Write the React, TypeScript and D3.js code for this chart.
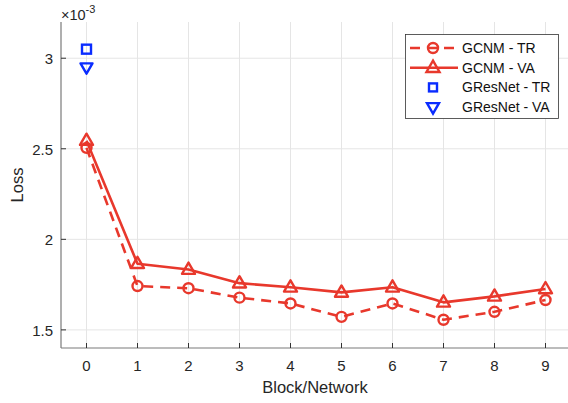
//@ts-nocheck
import React, { useEffect, useRef } from "react";
import * as d3 from "d3";

// values in units of 1e-3
const blocks = [0, 1, 2, 3, 4, 5, 6, 7, 8, 9];
const gcnmTR = [2.505, 1.742, 1.73, 1.678, 1.646, 1.572, 1.646, 1.556, 1.6, 1.665];
const gcnmVA = [2.545, 1.865, 1.833, 1.758, 1.735, 1.707, 1.735, 1.652, 1.685, 1.726];
const gresnetTR = [3.05];
const gresnetVA = [2.95];
const yTicks = [1.5, 2, 2.5, 3];
const legendLabels = ["GCNM - TR", "GCNM - VA", "GResNet - TR", "GResNet - VA"];

const RED = "#e8382c";
const BLUE = "#0a2cff";
const FONT = "Liberation Sans, Arial, Helvetica, sans-serif";

export default function App() {
  const ref = useRef<SVGSVGElement>(null);

  useEffect(() => {
    const svg = d3.select(ref.current);
    svg.selectAll("*").remove();

    const W = 568;
    const x = d3.scaleLinear().domain([-0.5, 9.5]).range([61, 61 + 51 * 10]);
    const y = d3.scaleLinear().domain([1.4, 3.2]).range([348, 22]);

    // grid
    const g = svg.append("g");
    g.selectAll(".vg").data(blocks).join("line")
      .attr("x1", (d) => x(d)).attr("x2", (d) => x(d))
      .attr("y1", y(3.2)).attr("y2", y(1.4))
      .attr("stroke", "#e5e5e5").attr("stroke-width", 1);
    g.selectAll(".hg").data(yTicks).join("line")
      .attr("x1", x(-0.5)).attr("x2", W)
      .attr("y1", (d) => y(d)).attr("y2", (d) => y(d))
      .attr("stroke", "#e5e5e5").attr("stroke-width", 1);

    // axes
    const axisColor = "#7a7a7a";
    g.append("line").attr("x1", x(-0.5)).attr("x2", x(-0.5))
      .attr("y1", y(3.2)).attr("y2", y(1.4))
      .attr("stroke", axisColor).attr("stroke-width", 1.2);
    g.append("line").attr("x1", x(-0.5)).attr("x2", W)
      .attr("y1", y(1.4)).attr("y2", y(1.4))
      .attr("stroke", axisColor).attr("stroke-width", 1.2);

    g.selectAll(".xt").data(blocks).join("line")
      .attr("x1", (d) => x(d)).attr("x2", (d) => x(d))
      .attr("y1", y(1.4)).attr("y2", y(1.4) - 5)
      .attr("stroke", "#333").attr("stroke-width", 1);
    g.selectAll(".yt").data(yTicks).join("line")
      .attr("x1", x(-0.5)).attr("x2", x(-0.5) + 5)
      .attr("y1", (d) => y(d)).attr("y2", (d) => y(d))
      .attr("stroke", "#333").attr("stroke-width", 1);

    g.selectAll(".xl").data(blocks).join("text")
      .attr("x", (d) => x(d)).attr("y", 371)
      .attr("text-anchor", "middle").attr("font-family", FONT)
      .attr("font-size", 15).attr("fill", "#262626").text((d) => d);
    g.selectAll(".yl").data(yTicks).join("text")
      .attr("x", x(-0.5) - 8).attr("y", (d) => y(d) + 6)
      .attr("text-anchor", "end").attr("font-family", FONT)
      .attr("font-size", 15).attr("fill", "#262626").text((d) => d);

    const expo = g.append("text").attr("x", 61).attr("y", 19.5)
      .attr("font-family", FONT).attr("font-size", 14.5).attr("fill", "#262626");
    expo.append("tspan").text("×10");
    expo.append("tspan").attr("dy", -7).attr("font-size", 11).text("-3");

    g.append("text").attr("x", 315).attr("y", 393)
      .attr("text-anchor", "middle").attr("font-family", FONT)
      .attr("font-size", 16.5).attr("fill", "#262626").text("Block/Network");
    g.append("text").attr("transform", `translate(23,185) rotate(-90)`)
      .attr("text-anchor", "middle").attr("font-family", FONT)
      .attr("font-size", 16.5).attr("fill", "#262626").text("Loss");

    const line = d3.line<number>().x((_, i) => x(blocks[i])).y((d) => y(d));

    const tri = (cx, cy, s, up) => {
      const h = s * 0.866;
      return up
        ? `M${cx},${cy - h * 0.62} L${cx + s / 2},${cy + h * 0.38} L${cx - s / 2},${cy + h * 0.38} Z`
        : `M${cx},${cy + h * 0.62} L${cx + s / 2},${cy - h * 0.38} L${cx - s / 2},${cy - h * 0.38} Z`;
    };

    // GCNM VA
    g.append("path").attr("d", line(gcnmVA)).attr("fill", "none")
      .attr("stroke", RED).attr("stroke-width", 2.6).attr("stroke-linejoin", "round");
    g.selectAll(".va").data(gcnmVA).join("path")
      .attr("d", (d, i) => tri(x(blocks[i]), y(d), 13, true))
      .attr("fill", "none").attr("stroke", RED).attr("stroke-width", 2.4)
      .attr("stroke-linejoin", "round");

    // GCNM TR
    g.append("path").attr("d", line(gcnmTR)).attr("fill", "none")
      .attr("stroke", RED).attr("stroke-width", 2.6).attr("stroke-dasharray", "10,7");
    g.selectAll(".tr").data(gcnmTR).join("circle")
      .attr("cx", (d, i) => x(blocks[i])).attr("cy", (d) => y(d)).attr("r", 5)
      .attr("fill", "none").attr("stroke", RED).attr("stroke-width", 2.4);

    // GResNet
    g.selectAll(".gtr").data(gresnetTR).join("rect")
      .attr("x", (d, i) => x(blocks[i]) - 4.5).attr("y", (d) => y(d) - 4.5)
      .attr("width", 9).attr("height", 9)
      .attr("fill", "none").attr("stroke", BLUE).attr("stroke-width", 2.4);
    g.selectAll(".gva").data(gresnetVA).join("path")
      .attr("d", (d, i) => tri(x(blocks[i]), y(d), 12, false))
      .attr("fill", "none").attr("stroke", BLUE).attr("stroke-width", 2.4)
      .attr("stroke-linejoin", "round");

    // legend
    const lg = g.append("g");
    lg.append("rect").attr("x", 405.5).attr("y", 34.5).attr("width", 153).attr("height", 84)
      .attr("fill", "white").attr("stroke", "#333").attr("stroke-width", 0.8);
    const rowY = (i) => 48 + i * 19.7;
    const mx = 433;
    lg.append("line").attr("x1", 410).attr("x2", 458).attr("y1", rowY(0)).attr("y2", rowY(0))
      .attr("stroke", RED).attr("stroke-width", 2.6).attr("stroke-dasharray", "10,7");
    lg.append("circle").attr("cx", mx).attr("cy", rowY(0)).attr("r", 5)
      .attr("fill", "none").attr("stroke", RED).attr("stroke-width", 2.4);
    lg.append("line").attr("x1", 410).attr("x2", 458).attr("y1", rowY(1)).attr("y2", rowY(1))
      .attr("stroke", RED).attr("stroke-width", 2.6);
    lg.append("path").attr("d", tri(mx, rowY(1), 13, true))
      .attr("fill", "none").attr("stroke", RED).attr("stroke-width", 2.4);
    lg.append("rect").attr("x", mx - 4).attr("y", rowY(2) - 4).attr("width", 8).attr("height", 8)
      .attr("fill", "none").attr("stroke", BLUE).attr("stroke-width", 2.4);
    lg.append("path").attr("d", tri(mx, rowY(3), 12, false))
      .attr("fill", "none").attr("stroke", BLUE).attr("stroke-width", 2.4);
    lg.selectAll(".lt").data(legendLabels).join("text")
      .attr("x", 462).attr("y", (d, i) => rowY(i) + 5)
      .attr("font-family", FONT).attr("font-size", 14).attr("fill", "#111")
      .text((d) => d);
  }, []);

  return <svg ref={ref} width={568} height={403} style={{ position: "absolute", left: 0, top: 0 }} />;
}
